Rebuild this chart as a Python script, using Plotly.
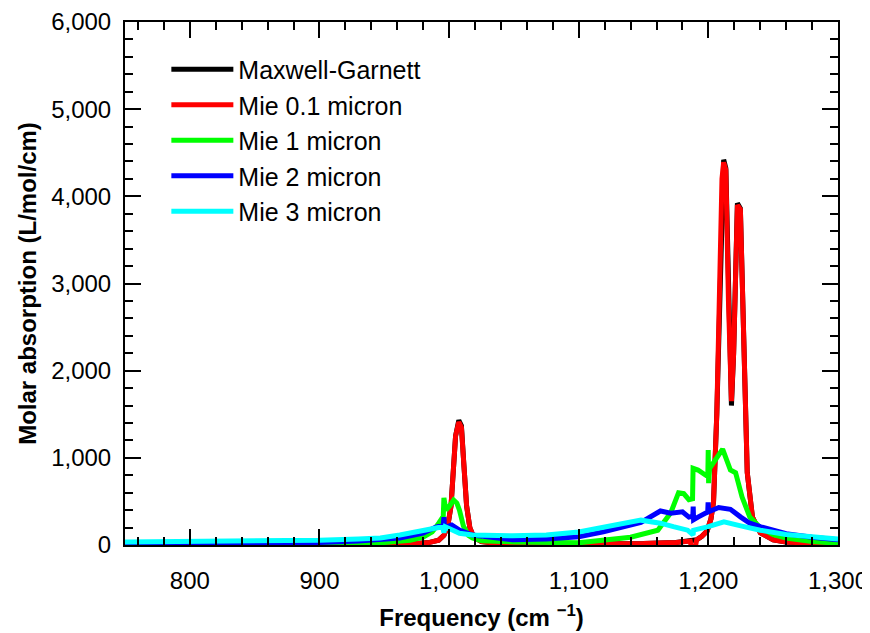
import plotly.graph_objects as go

# ---- data ----
freq_mg = [750, 800, 850, 900, 950, 975, 985, 992, 996, 999, 1001.5, 1003.5, 1005, 1007.5, 1009.5, 1011.5,
           1013.5, 1016, 1019, 1025, 1035, 1050, 1100, 1150, 1175, 1186, 1188.4, 1191, 1195, 1199, 1202, 1204,
           1206.5, 1208.7, 1210.5, 1211.8, 1213.5, 1215.5, 1217.8, 1219.5, 1221, 1222.4, 1224.7, 1227, 1230,
           1234, 1240, 1250, 1260, 1280, 1300]
mg = [3, 4, 5, 7, 12, 18, 30, 55, 110, 220, 450, 900, 1250, 1430, 1370, 900, 450, 200, 90, 40, 22, 15, 12, 18,
      30, 45, 50, 60, 100, 160, 300, 500, 1500, 2800, 4200, 4420, 4320, 2800, 1600, 2200, 3500, 3920, 3860,
      2350, 830, 320, 140, 60, 35, 18, 10]

freq_r = freq_mg
mie01 = [3, 4, 5, 7, 12, 18, 30, 55, 110, 220, 450, 900, 1250, 1410, 1350, 900, 450, 200, 90, 40, 22, 15, 12,
         18, 30, 45, -140, 60, 100, 160, 300, 500, 1500, 2800, 4200, 4390, 4300, 2800, 1650, 2200, 3500, 3900,
         3850, 2350, 830, 320, 140, 60, 35, 18, 10]

freq_g = [750, 800, 850, 900, 950, 970, 980, 987, 992, 995.5, 996, 997.5, 1000, 1003.5, 1006, 1008, 1011, 1015,
          1018, 1025, 1050, 1100, 1140, 1161, 1171, 1177, 1181, 1185, 1187.8, 1188.2, 1192, 1198, 1199.6,
          1199.9, 1200.2, 1201, 1204, 1211, 1217, 1221, 1226, 1232, 1240, 1250, 1260, 1280, 1300]
mie1 = [5, 7, 10, 15, 30, 55, 90, 150, 250, 330, 540, 400, 440, 515, 480, 400, 220, 110, 80, 50, 35, 25, 90,
        170, 370, 600, 590, 520, 530, 880, 860, 800, 810, 1090, 710, 880, 940, 1100, 860, 830, 550, 320, 200,
        120, 80, 40, 20]

freq_b = [750, 800, 850, 900, 930, 950, 962, 980, 989, 995.5, 996, 996.5, 1002, 1008, 1018, 1049, 1075, 1100,
          1119, 1148, 1163, 1171, 1180, 1185, 1188, 1188.3, 1188.6, 1192, 1199.5, 1199.8, 1200.2, 1208, 1217,
          1225, 1232, 1240, 1260, 1280, 1300]
mie2 = [15, 18, 22, 30, 45, 60, 80, 135, 200, 230, 320, 200, 230, 170, 115, 60, 70, 95, 150, 260, 390, 365,
        380, 320, 330, 440, 290, 320, 380, 490, 380, 430, 410, 320, 250, 210, 130, 90, 60]

freq_c = [750, 800, 850, 900, 930, 947, 962, 980, 987, 995, 996, 997, 1000, 1008, 1018, 1049, 1075, 1100,
          1148, 1163, 1173, 1184, 1188.2, 1188.6, 1200, 1212, 1225, 1240, 1260, 1280, 1300]
mie3 = [35, 40, 45, 55, 70, 80, 115, 160, 190, 210, 140, 210, 190, 135, 115, 105, 115, 150, 285, 250, 210,
        170, 115, 170, 210, 265, 220, 170, 120, 90, 70]

series = [
    ("Maxwell-Garnett", freq_mg, mg, "#000000", 5),
    ("Mie 0.1 micron", freq_r, mie01, "#ff0000", 5),
    ("Mie 1 micron", freq_g, mie1, "#00ff00", 5),
    ("Mie 2 micron", freq_b, mie2, "#0000ff", 5),
    ("Mie 3 micron", freq_c, mie3, "#00ffff", 5),
]

x_ticks = [800, 900, 1000, 1100, 1200, 1300]
y_ticks = [0, 1000, 2000, 3000, 4000, 5000, 6000]

FONT = "Liberation Sans, Arial, sans-serif"

fig = go.Figure()
for i, (name, xs, ys, col, w) in enumerate(series):
    fig.add_trace(go.Scatter(x=xs, y=ys, mode="lines", name=name, legendgroup=str(i),
                             line=dict(color=col, width=w)))

axis_common = dict(
    showline=True, linecolor="black", linewidth=2, mirror="allticks",
    ticks="inside", ticklen=16, tickwidth=2, tickcolor="black",
    showgrid=False, zeroline=False, automargin=False,
    tickfont=dict(family=FONT, size=24, color="black"),
    tickformat=",",
)

fig.update_xaxes(**axis_common, range=[750, 1300], tickvals=x_ticks,
                 minor=dict(dtick=20, tick0=0, ticks="inside", ticklen=8, tickwidth=2, tickcolor="black"),
                 ticklabelstandoff=13,
                 title=dict(text="<b>Frequency (cm <sup>−1</sup>)</b>", standoff=16,
                            font=dict(family=FONT, size=24, color="black")))
fig.update_yaxes(**axis_common, range=[0, 6000], tickvals=y_ticks,
                 minor=dict(dtick=200, tick0=0, ticks="inside", ticklen=8, tickwidth=2, tickcolor="black"),
                 ticklabelstandoff=7,
                 title=dict(text="<b>Molar absorption (L/mol/cm)</b>", standoff=8,
                            font=dict(family=FONT, size=24, color="black")))

# page body adds an 8px margin, so the figure is 8px smaller and margins shifted accordingly
fig.update_layout(
    width=862, height=625,
    margin=dict(l=117, r=32, t=14, b=88),
    paper_bgcolor="white", plot_bgcolor="white",
    showlegend=True,
    legend=dict(x=0.058, y=0.953, xanchor="left", yanchor="top",
                bgcolor="rgba(0,0,0,0)", borderwidth=0, itemwidth=62,
                font=dict(family=FONT, size=25, color="black"),
                traceorder="grouped", tracegroupgap=0),
)

fig.write_html("out.html")
